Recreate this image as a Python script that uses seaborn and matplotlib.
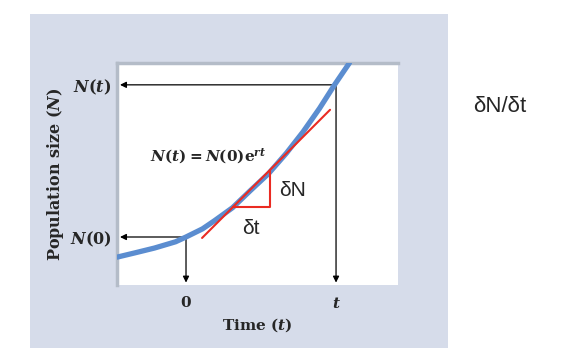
import matplotlib
matplotlib.use('Agg')
import matplotlib.pyplot as plt
from matplotlib.patches import Rectangle
import seaborn as sns

# curve (time in units of t, population in units of N(0))
time = [-0.46, -0.34, -0.21, -0.07, 0.0, 0.11, 0.19, 0.31, 0.43, 0.55,
        0.67, 0.78, 0.89, 0.99, 1.09]
pop = [0.58, 0.67, 0.77, 0.90, 1.0, 1.17, 1.34, 1.61, 1.97, 2.32,
       2.75, 3.19, 3.68, 4.17, 4.63]

# tangent line and slope triangle
tangent_t = [0.107, 0.96]
tangent_n = [0.98, 3.65]
tri_t = [0.313, 0.56, 0.56]
tri_n = [1.625, 1.625, 2.40]

# marked points
t_marks = [0.0, 1.0]
n_marks = [1.0, 4.17]
x_ticklabels = ['0', '$t$']
y_ticklabels = ['$N(0)$', '$N(t)$']

sns.set_style('white')
plt.rcParams['font.family'] = ['DejaVu Serif']
plt.rcParams['mathtext.fontset'] = 'custom'
plt.rcParams['mathtext.rm'] = 'DejaVu Serif:bold'
plt.rcParams['mathtext.it'] = 'DejaVu Serif:italic:bold'
plt.rcParams['mathtext.bf'] = 'DejaVu Serif:bold'

fig = plt.figure(figsize=(5.62, 3.6), dpi=100)
fig.patch.set_facecolor('white')
fig.patches.append(Rectangle((30 / 562, 12 / 360), 418 / 562, 334 / 360,
                             transform=fig.transFigure, facecolor='#d6dcea',
                             edgecolor='none', zorder=-5))

ax = fig.add_axes([117 / 562, 75 / 360, 281 / 562, 222 / 360])
ax.set_facecolor('white')
ax.set_xlim(-0.46, 1.413)
ax.set_ylim(0, 4.625)

sns.lineplot(x=time, y=pop, ax=ax, color='#5b8dd0', lw=3.8, sort=False,
             estimator=None, solid_joinstyle='round', zorder=3)
sns.lineplot(x=tangent_t, y=tangent_n, ax=ax, color='#ea2b22', lw=1.5,
             estimator=None, zorder=4)
sns.lineplot(x=tri_t, y=tri_n, ax=ax, color='#ea2b22', lw=1.5, sort=False,
             estimator=None, zorder=4)

arrow = dict(arrowstyle='-|>', color='black', lw=0.9, mutation_scale=9, shrinkA=0, shrinkB=0)
for tm, nm in zip(t_marks, n_marks):
    ax.annotate('', xy=(-0.44, nm), xytext=(tm, nm), arrowprops=arrow, zorder=1)
    ax.annotate('', xy=(tm, 0.05), xytext=(tm, nm), arrowprops=arrow, zorder=1)

ax.set_xticks(t_marks)
ax.set_xticklabels(x_ticklabels, fontsize=11, fontweight='bold')
ax.set_yticks(n_marks)
ax.set_yticklabels(y_ticklabels, fontsize=11.5)
ax.tick_params(axis='y', length=0, pad=4)
ax.tick_params(axis='x', length=0, pad=8)
ax.set_xlabel('Time $(t)$', fontsize=11, fontweight='bold', labelpad=4)
ax.set_ylabel('Population size $(N)$', fontsize=11.5, fontweight='bold', labelpad=3)

for side in ['right', 'bottom']:
    ax.spines[side].set_visible(False)
for side in ['left', 'top']:
    ax.spines[side].set_color('#b4bcc8')
    ax.spines[side].set_linewidth(2.5)

ax.text(0.15, 2.68, r'$N(t) = N(0)\mathrm{e}^{rt}$', fontsize=11, ha='center', va='center')
ax.text(0.71, 1.97, 'δN', fontsize=15, family='Liberation Sans', ha='center', va='center')
ax.text(0.43, 1.17, 'δt', fontsize=15, family='Liberation Sans', ha='center', va='center')
fig.text(500 / 562, 1 - 106 / 360, 'δN/δt', fontsize=16, family='Liberation Sans',
         ha='center', va='center')

fig.savefig('out.png', dpi=100)
